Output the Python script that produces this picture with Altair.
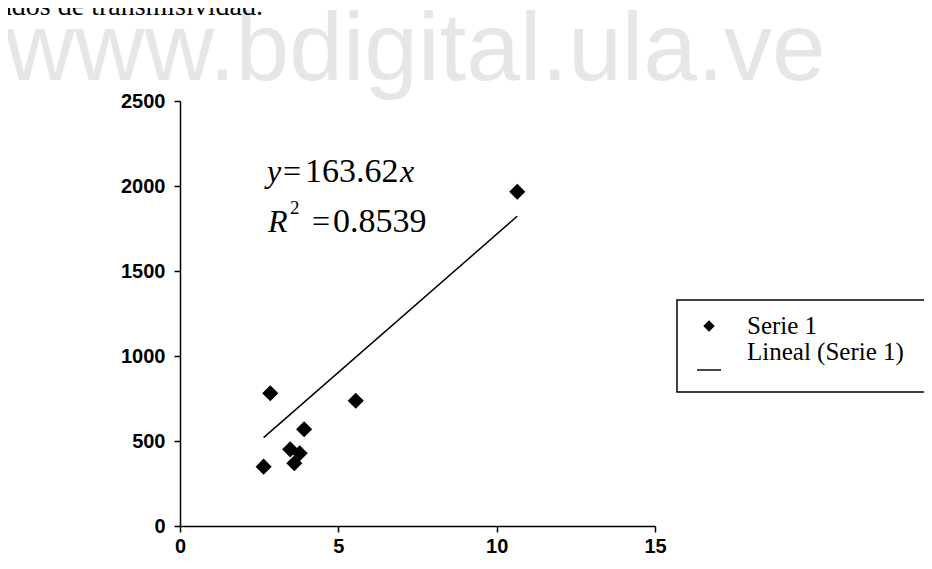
import altair as alt
import pandas as pd

# ---- data ----
x_vals = [2.64, 2.85, 3.48, 3.61, 3.78, 3.92, 5.55, 10.65]
y_vals = [349, 781, 451, 369, 428, 569, 737, 1966]
trend_x = [2.64, 10.65]
trend_y = [520, 1822]
x_ticks = [0, 5, 10, 15]
y_ticks = [0, 500, 1000, 1500, 2000, 2500]
series_names = ["Serie 1", "Lineal (Serie 1)"]
eq_line1 = ["y", "=", "163.62", "x"]
eq_line2 = ["R", "2", "=", "0.8539"]
watermark = "www.bdigital.ula.ve"
top_text = "ados de transmisividad."

points_df = pd.DataFrame({"x": x_vals, "y": y_vals, "serie": [series_names[0]] * len(x_vals)})
trend_df = pd.DataFrame({"x": trend_x, "y": trend_y})

xscale = alt.Scale(domain=[0, 15], nice=False)
yscale = alt.Scale(domain=[0, 2500], nice=False)

# legend / point glyphs (unit coordinates, scaled by sqrt(size)/2)
diamond_path = "M-0.48,0L0,-0.48L0.48,0L0,0.48Z"
line_path = "M-1,1.44L1,1.44L1,1.56L-1,1.56Z"

SERIF = "Liberation Serif"
SANS = "Liberation Sans"


def txt(s, x, y, size, style="normal", family=SERIF, color="black", align="left"):
    return alt.Chart(pd.DataFrame({"t": [s]})).mark_text(
        align=align, baseline="alphabetic", font=family, fontSize=size,
        fontStyle=style, color=color
    ).encode(x=alt.value(x), y=alt.value(y), text="t:N")


wm = txt(watermark, -175, -21, 96.5, family=SANS, color="#e6e6e6")
top = txt(top_text, 83, -86, 28, align="right")

trend = alt.Chart(trend_df).mark_line(color="black", strokeWidth=1.5).encode(
    x=alt.X("x:Q", scale=xscale),
    y=alt.Y("y:Q", scale=yscale),
)

points = alt.Chart(points_df).mark_point(
    filled=True, fill="black", stroke="black", strokeWidth=1.5, size=851, opacity=1
).encode(
    x=alt.X("x:Q", scale=xscale,
            axis=alt.Axis(values=x_ticks, title=None, labelPadding=4, labelFlush=False,
                          format="d")),
    y=alt.Y("y:Q", scale=yscale,
            axis=alt.Axis(values=y_ticks, title=None, labelPadding=9, labelFlush=False,
                          format="d")),
    shape=alt.Shape("serie:N",
                    scale=alt.Scale(domain=series_names, range=[diamond_path, line_path]),
                    legend=alt.Legend(title=None, orient="none", legendX=516, legendY=212,
                                      padding=0, rowPadding=0, symbolSize=576,
                                      labelOffset=25, labelFont=SERIF, labelFontSize=25,
                                      labelColor="black", symbolFillColor="black",
                                      symbolStrokeColor="black", symbolStrokeWidth=1.5,
                                      symbolOpacity=1, labelLimit=400)),
)

frame = alt.Chart(pd.DataFrame({"a": [0]})).mark_rect(
    fill="white", fillOpacity=0, stroke="black", strokeWidth=1.5
).encode(x=alt.value(497), x2=alt.value(760), y=alt.value(199), y2=alt.value(291))

eq = [
    txt(eq_line1[0], 87, 81, 32, style="italic"),
    txt(eq_line1[1], 103, 81, 32),
    txt(eq_line1[2], 125, 81, 34),
    txt(eq_line1[3], 220, 81, 32, style="italic"),
    txt(eq_line2[0], 88, 131, 32, style="italic"),
    txt(eq_line2[1], 110, 113, 19),
    txt(eq_line2[2], 132, 131, 32),
    txt(eq_line2[3], 153, 131, 34),
]

chart = alt.layer(wm, top, trend, points, frame, *eq).properties(
    width=475, height=425,
    padding={"left": 172, "top": 93, "right": 269, "bottom": 30},
    autosize="none",
    background="white",
).configure_view(stroke=None).configure_axis(
    grid=False, domainColor="black", domainWidth=1.5, tickColor="black",
    tickWidth=1.5, tickSize=6, labelFont=SANS, labelFontWeight="bold",
    labelFontSize=20, labelColor="black", labelOverlap=False
)

chart.save("out.html", embed_options={"renderer": "svg", "actions": False})
